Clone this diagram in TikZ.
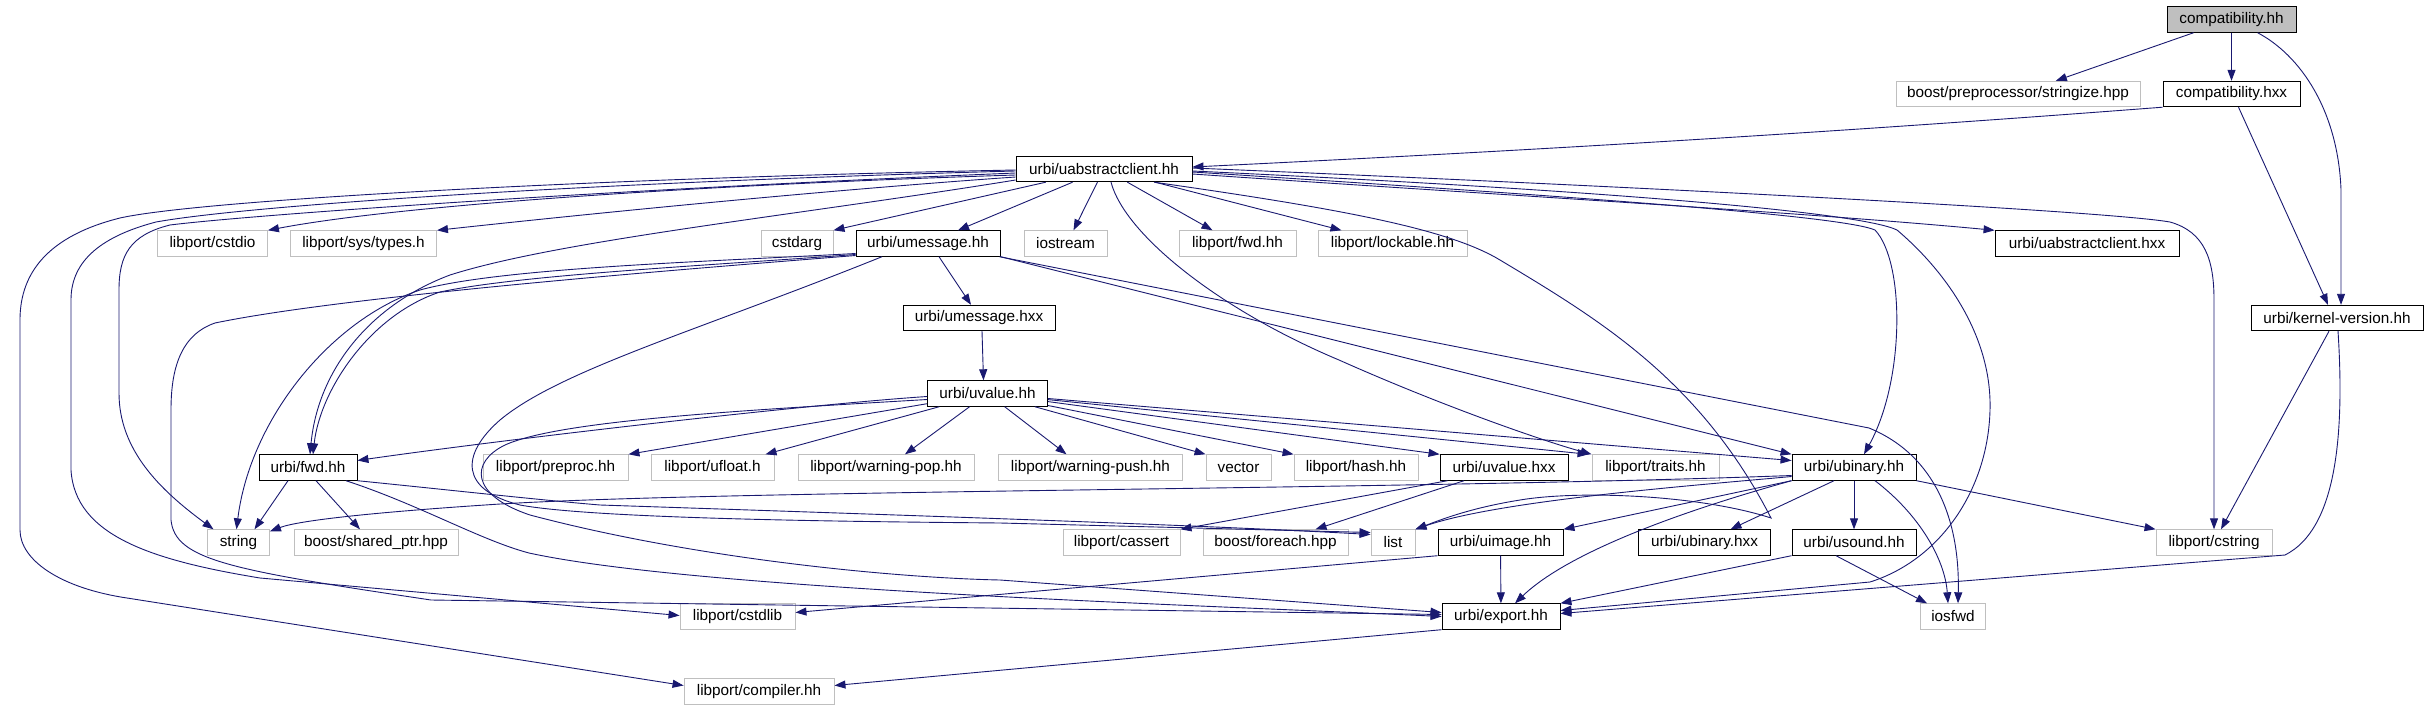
\documentclass[tikz,border=0pt]{standalone}
\usepackage{fontspec}
\setmainfont{Liberation Sans}
\usetikzlibrary{arrows.meta}
\definecolor{edgec}{HTML}{191970}
\definecolor{grayb}{HTML}{BFBFBF}
\tikzset{
  base/.style={draw, rectangle, minimum height=25.5pt, inner sep=0pt, line width=0.9pt, font=\fontsize{15.3}{18}\selectfont},
  doc/.style={base, draw=black},
  ext/.style={base, draw=grayb},
  cur/.style={base, draw=black, fill=grayb},
  e/.style={draw=edgec, line width=0.9pt, -{Triangle[length=11pt,width=8pt]}}
}
\begin{document}
\begin{tikzpicture}[x=1pt,y=-1pt]
\useasboundingbox (0,0) rectangle (2427,709);
% nodes
\node[cur, minimum width=129pt] (comphh) at (2231.5,19.5) {compatibility.hh};
\node[ext, minimum width=244pt] (stringize) at (2018,94) {boost/preprocessor/stringize.hpp};
\node[doc, minimum width=137pt] (comphxx) at (2231.5,94) {compatibility.hxx};
\node[doc, minimum width=176pt] (uac) at (1104,169) {urbi/uabstractclient.hh};
\node[ext, minimum width=110pt] (cstdio) at (212.5,243.5) {libport/cstdio};
\node[ext, minimum width=146pt] (types) at (363.5,243.5) {libport/sys/types.h};
\node[ext, minimum width=72pt] (cstdarg) at (797,243.5) {cstdarg};
\node[doc, minimum width=144pt] (umessage) at (928,243.5) {urbi/umessage.hh};
\node[ext, minimum width=83pt] (iostream) at (1065.5,243.5) {iostream};
\node[ext, minimum width=117pt] (lfwd) at (1237.5,243.5) {libport/fwd.hh};
\node[ext, minimum width=149pt] (lockable) at (1392.5,243.5) {libport/lockable.hh};
\node[doc, minimum width=184pt] (uachxx) at (2087,243.5) {urbi/uabstractclient.hxx};
\node[doc, minimum width=152pt] (umhxx) at (979,318) {urbi/umessage.hxx};
\node[doc, minimum width=172pt] (kv) at (2337,318) {urbi/kernel-version.hh};
\node[doc, minimum width=120pt] (uvalue) at (987.5,393.5) {urbi/uvalue.hh};
\node[doc, minimum width=98pt] (ufwd) at (308,467.5) {urbi/fwd.hh};
\node[ext, minimum width=145pt] (preproc) at (555.5,467.5) {libport/preproc.hh};
\node[ext, minimum width=123pt] (ufloat) at (712.5,467.5) {libport/ufloat.h};
\node[ext, minimum width=176pt] (wpop) at (886,467.5) {libport/warning-pop.hh};
\node[ext, minimum width=184pt] (wpush) at (1090.5,467.5) {libport/warning-push.hh};
\node[ext, minimum width=65pt] (vector) at (1238.5,467.5) {vector};
\node[ext, minimum width=124pt] (hash) at (1356,467.5) {libport/hash.hh};
\node[doc, minimum width=128pt] (uvhxx) at (1504,467.5) {urbi/uvalue.hxx};
\node[ext, minimum width=127pt] (traits) at (1655.5,467.5) {libport/traits.hh};
\node[doc, minimum width=124pt] (ubinary) at (1854,467.5) {urbi/ubinary.hh};
\node[ext, minimum width=62pt] (string) at (238.5,542.5) {string};
\node[ext, minimum width=164pt] (sharedptr) at (376,542.5) {boost/shared\_ptr.hpp};
\node[ext, minimum width=117pt] (cassert) at (1121.5,542.5) {libport/cassert};
\node[ext, minimum width=145pt] (foreach) at (1275.5,542.5) {boost/foreach.hpp};
\node[ext, minimum width=44pt] (list) at (1393,542.5) {list};
\node[doc, minimum width=125pt] (uimage) at (1500.5,542.5) {urbi/uimage.hh};
\node[doc, minimum width=132pt] (ubhxx) at (1704.5,542.5) {urbi/ubinary.hxx};
\node[doc, minimum width=124pt] (usound) at (1854,542.5) {urbi/usound.hh};
\node[ext, minimum width=116pt] (cstring) at (2214,542.5) {libport/cstring};
\node[ext, minimum width=115pt] (cstdlib) at (737.5,616.5) {libport/cstdlib};
\node[doc, minimum width=118pt] (export) at (1501,616.5) {urbi/export.hh};
\node[ext, minimum width=65pt] (iosfwd) at (1953,616.5) {iosfwd};
\node[ext, minimum width=150pt] (compiler) at (759,691.5) {libport/compiler.hh};
% edges: compatibility
\draw[e] (comphh) -- (stringize);
\draw[e] (comphh) -- (comphxx);
\draw[e] ([xshift=26pt]comphh.south) .. controls (2300,55) and (2338,110) .. (2341,190) -- ([xshift=4pt]kv.north);
\draw[e] (comphxx.south west) .. controls (1800,135) and (1500,152) .. ([yshift=2pt]uac.east);
\draw[e] ([xshift=7pt]comphxx.south) -- ([xshift=-9pt]kv.north);
\draw[e] ([xshift=-8pt]kv.south) -- ([xshift=7pt]cstring.north);
\draw[e] ([xshift=1pt]kv.south) .. controls (2345,440) and (2335,530) .. (2285,555) -- ([yshift=3pt]export.east);
% uabstractclient
\draw[e] ([yshift=-6pt]uac.west) .. controls (700,185) and (400,205) .. (cstdio.north east);
\draw[e] ([yshift=-8pt]uac.west) .. controls (800,192) and (550,218) .. (types.north east);
\draw[e] (uac) -- (cstdarg.north east);
\draw[e] (uac) -- ([xshift=30pt]umessage.north);
\draw[e] (uac) -- ([xshift=8pt]iostream.north);
\draw[e] (uac) -- ([xshift=-25pt]lfwd.north);
\draw[e] (uac) -- ([xshift=-51pt]lockable.north);
\draw[e] ([yshift=-5pt]uac.east) .. controls (1500,195) and (1800,212) .. (uachxx.north west);
\draw[e] ([yshift=1pt]uac.east) .. controls (1600,185) and (2100,210) .. (2170,222) .. controls (2205,232) and (2214,260) .. (2214,300) -- (cstring.north);
\draw[e] ([yshift=-3pt]uac.east) .. controls (1550,195) and (1840,215) .. (1875,230) .. controls (1905,262) and (1905,380) .. ([xshift=10pt]ubinary.north);
\draw[e] ([yshift=-2pt]uac.east) .. controls (1600,190) and (1860,212) .. (1897,230) .. controls (1950,275) and (1992,340) .. (1990,410) .. controls (1988,490) and (1940,560) .. (1870,582) -- ([yshift=6pt]export.east);
\draw[e] ([xshift=7pt]uac.south) .. controls (1125,235) and (1220,310) .. (1339,360) .. controls (1440,405) and (1540,440) .. (traits.north west);
\draw[e] ([xshift=50pt]uac.south) .. controls (1350,210) and (1450,230) .. (1500,260) .. controls (1600,320) and (1700,380) .. (1771,518) .. controls (1700,495) and (1580,490) .. (1520,500) .. controls (1470,508) and (1440,520) .. (list.north east);
\draw[e] ([yshift=-1pt]uac.west) .. controls (600,178) and (200,200) .. (120,218) .. controls (40,238) and (20,280) .. (20,320) -- (20,530) .. controls (20,560) and (60,588) .. (127,598) -- ([yshift=6pt]compiler.west);
\draw[e] ([yshift=-2pt]uac.west) .. controls (600,182) and (250,205) .. (156,222) .. controls (95,238) and (71,265) .. (71,300) -- (71,470) .. controls (75,535) and (150,560) .. (260,578) -- ([yshift=1pt]cstdlib.west);
\draw[e] ([yshift=-4pt]uac.west) .. controls (600,190) and (250,215) .. (170,225) .. controls (130,235) and (119,255) .. (119,290) -- (119,393) .. controls (119,450) and (160,490) .. ([xshift=-25pt]string.north);
\draw[e] ([yshift=-11pt]uac.west) .. controls (800,215) and (560,240) .. (450,275) .. controls (370,305) and (318,370) .. ([xshift=2pt]ufwd.north);
% umessage
\draw[e] ([xshift=11pt]umessage.south) -- ([xshift=-8pt]umhxx.north);
\draw[e] (umessage.south east) -- (ubinary.north west);
\draw[e] ([xshift=-1pt]umessage.south east) -- (1869,428) .. controls (1935,455) and (1960,520) .. ([xshift=5pt]iosfwd.north);
\draw[e] ([yshift=-10pt]umessage.west) .. controls (700,262) and (500,268) .. (420,290) .. controls (330,320) and (250,420) .. ([xshift=-2pt]string.north);
\draw[e] ([yshift=-11pt]umessage.west) .. controls (700,266) and (520,275) .. (440,292) .. controls (370,315) and (320,390) .. ([xshift=5pt]ufwd.north);
\draw[e] ([yshift=-12pt]umessage.west) .. controls (700,268) and (350,295) .. (215,323) .. controls (180,335) and (171,370) .. (171,410) -- (171,520) .. controls (175,560) and (230,570) .. (431,600) -- ([yshift=2pt]export.west);
\draw[e] ([xshift=-46pt]umessage.south) .. controls (700,330) and (560,370) .. (500,420) .. controls (460,455) and (460,490) .. (520,505) .. controls (600,520) and (900,522) .. (1000,523) -- ([yshift=10pt]list.west);
% umessage.hxx
\draw[e] ([xshift=3pt]umhxx.south) -- ([xshift=-4pt]uvalue.north);
% uvalue
\draw[e] ([yshift=-3pt]uvalue.west) .. controls (800,405) and (500,440) .. ([yshift=7pt]ufwd.east);
\draw[e] (uvalue) -- (preproc.north east);
\draw[e] (uvalue) -- ([xshift=53pt]ufloat.north);
\draw[e] (uvalue) -- ([xshift=19pt]wpop.north);
\draw[e] (uvalue) -- ([xshift=-24pt]wpush.north);
\draw[e] (uvalue) -- (vector.north west);
\draw[e] (uvalue) -- (hash.north west);
\draw[e] (uvalue) -- (uvhxx.north west);
\draw[e] (uvalue) -- ([xshift=-3pt]traits.north west);
\draw[e] (uvalue) -- ([yshift=7pt]ubinary.west);
\draw[e] ([yshift=-6pt]uvalue.west) .. controls (750,410) and (560,420) .. (505,445) .. controls (470,462) and (470,495) .. (530,515) .. controls (700,560) and (900,578) .. (1000,580) -- ([yshift=4pt]export.west);
% urbi/fwd.hh
\draw[e] ([xshift=-20pt]ufwd.south) -- ([xshift=16pt]string.north);
\draw[e] ([xshift=8pt]ufwd.south) -- ([xshift=-16pt]sharedptr.north);
\draw[e] ([xshift=38pt]ufwd.south) .. controls (420,505) and (480,540) .. (529,553) .. controls (700,590) and (1200,605) .. (export.west);
\draw[e] (ufwd.south east) .. controls (450,490) and (540,500) .. (600,505) .. controls (900,515) and (1200,525) .. ([yshift=8pt]list.west);
% uvalue.hxx
\draw[e] ([xshift=8pt]uvhxx.south west) -- (cassert.north east);
\draw[e] ([xshift=-40pt]uvhxx.south) -- ([xshift=40pt]foreach.north);
% ubinary
\draw[e] (ubinary.south west) -- (uimage.north east);
\draw[e] ([xshift=-20pt]ubinary.south) -- ([xshift=26pt]ubhxx.north);
\draw[e] (ubinary) -- (usound);
\draw[e] (ubinary.south east) -- (cstring.north west);
\draw[e] ([xshift=21pt]ubinary.south) .. controls (1920,515) and (1945,560) .. ([xshift=-5pt]iosfwd.north);
\draw[e] (ubinary.south west) .. controls (1650,520) and (1560,560) .. ([xshift=14pt]export.north);
\draw[e] ([yshift=-9pt]ubinary.west) .. controls (1700,485) and (1500,500) .. (list.north east);
\draw[e] ([yshift=-8pt]ubinary.west) .. controls (1400,490) and (700,490) .. (485,505) .. controls (380,512) and (300,520) .. ([yshift=-2pt]string.north east);
% uimage, usound
\draw[e] (uimage) -- (export);
\draw[e] (uimage.south west) -- ([yshift=4pt]cstdlib.east);
\draw[e] (usound.south west) -- (export.north east);
\draw[e] ([xshift=-18pt]usound.south) -- ([xshift=-26pt]iosfwd.north);
% export
\draw[e] (export.south west) -- ([yshift=6pt]compiler.east);
\end{tikzpicture}
\end{document}
